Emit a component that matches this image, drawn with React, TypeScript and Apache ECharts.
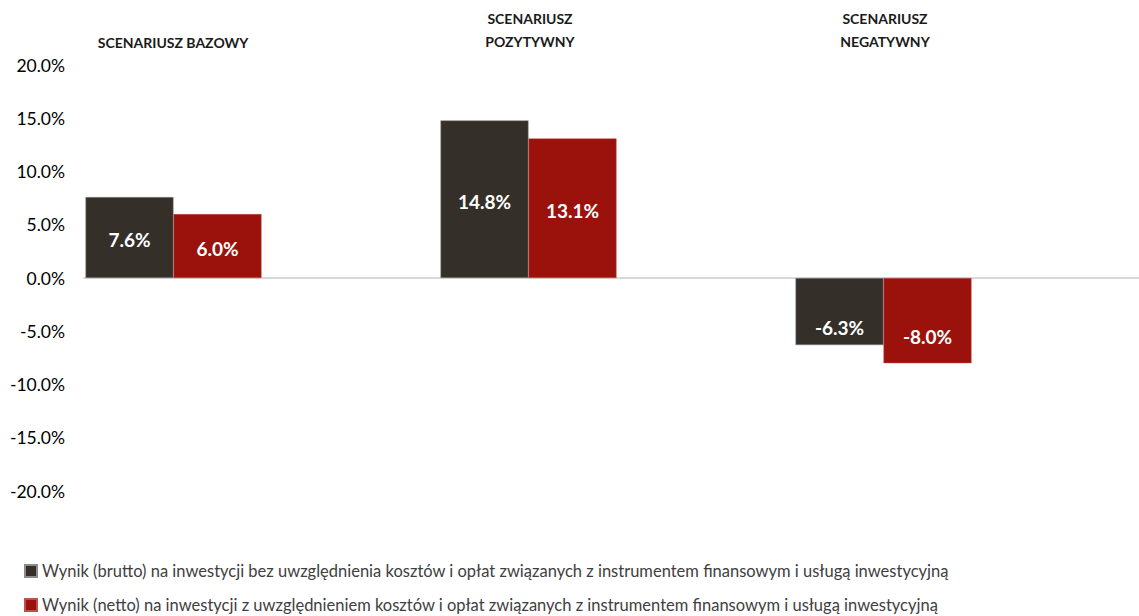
import React, { useEffect, useRef } from "react";
import * as echarts from "echarts";

const categories = ["SCENARIUSZ BAZOWY", "SCENARIUSZ\nPOZYTYWNY", "SCENARIUSZ\nNEGATYWNY"];
const grossName =
  "Wynik (brutto) na inwestycji bez uwzględnienia kosztów i opłat związanych z instrumentem finansowym i usługą inwestycyjną";
const netName =
  "Wynik (netto) na inwestycji z uwzględnieniem kosztów i opłat związanych z instrumentem finansowym i usługą inwestycyjną";
const grossValues = [7.6, 14.8, -6.3];
const netValues = [6.0, 13.1, -8.0];
const yMin = -20;
const yMax = 20;
const yStep = 5;

const FONT = "Lato, 'Open Sans', sans-serif";

export default function App() {
  const ref = useRef<HTMLDivElement>(null);
  useEffect(() => {
    if (!ref.current) return;
    const chart = echarts.init(ref.current, undefined, { renderer: "svg" });
    const mkData = (vals: number[]) =>
      vals.map((v) => ({
        value: v,
        label: { offset: v < 0 ? [0, 16] : [0, 2] },
      }));
    const labelCfg = {
      show: true,
      position: "inside",
      color: "#ffffff",
      fontFamily: FONT,
      fontWeight: "bold",
      fontSize: 19,
      formatter: (p: any) => Number(p.value).toFixed(1) + "%",
    };
    const titleX = [173, 530, 885];
    chart.setOption({
      animation: false,
      textStyle: { fontFamily: FONT },
      grid: { left: 84, width: 1065, top: 65, height: 426, containLabel: false },
      legend: {
        orient: "vertical",
        left: 24,
        top: 561,
        height: 120,
        padding: 0,
        icon: "rect",
        itemWidth: 12,
        itemHeight: 12,
        itemGap: 14,
        data: [grossName, netName],
        textStyle: { fontFamily: FONT, fontSize: 16.5, lineHeight: 20, color: "#404040" },
        selectedMode: false,
      },
      xAxis: {
        type: "category",
        data: categories,
        axisLine: { show: true, lineStyle: { color: "#d9d9d9", width: 2 } },
        axisTick: { show: false },
        axisLabel: { show: false },
        splitLine: { show: false },
      },
      yAxis: {
        type: "value",
        min: yMin,
        max: yMax,
        interval: yStep,
        axisLine: { show: false },
        axisTick: { show: false },
        splitLine: { show: false },
        axisLabel: {
          margin: 19,
          fontFamily: FONT,
          fontSize: 17.5,
          color: "#000000",
          formatter: (v: number) => v.toFixed(1) + "%",
        },
      },
      graphic: categories.map((c, i) => ({
        type: "text",
        x: titleX[i],
        y: c.includes("\n") ? 7 : 31,
        style: {
          text: c,
          fontFamily: FONT,
          fontWeight: "bold",
          fontSize: 14,
          lineHeight: 23,
          fill: "#1a1a1a",
          align: "center",
          verticalAlign: "top",
        },
      })),
      series: [
        {
          name: grossName,
          type: "bar",
          data: mkData(grossValues),
          barWidth: 88,
          barGap: "0%",
          itemStyle: { color: "#352f29", borderColor: "#8c8c8c", borderWidth: 0.5 },
          label: labelCfg,
        },
        {
          name: netName,
          type: "bar",
          data: mkData(netValues),
          barWidth: 88,
          barGap: "0%",
          itemStyle: { color: "#9a120b", borderColor: "#c0504d", borderWidth: 0.5 },
          label: labelCfg,
        },
        { name: "_p1", type: "bar", data: ["-", "-", "-"], barWidth: 88, barGap: "0%" },
        { name: "_p2", type: "bar", data: ["-", "-", "-"], barWidth: 88, barGap: "0%" },
      ],
    });
    return () => chart.dispose();
  }, []);
  return (
    <div style={{ position: "fixed", left: 0, top: 0, width: 1139, height: 616, overflow: "hidden", background: "#fff" }}>
      <div ref={ref} style={{ width: 1150, height: 616 }} />
    </div>
  );
}
